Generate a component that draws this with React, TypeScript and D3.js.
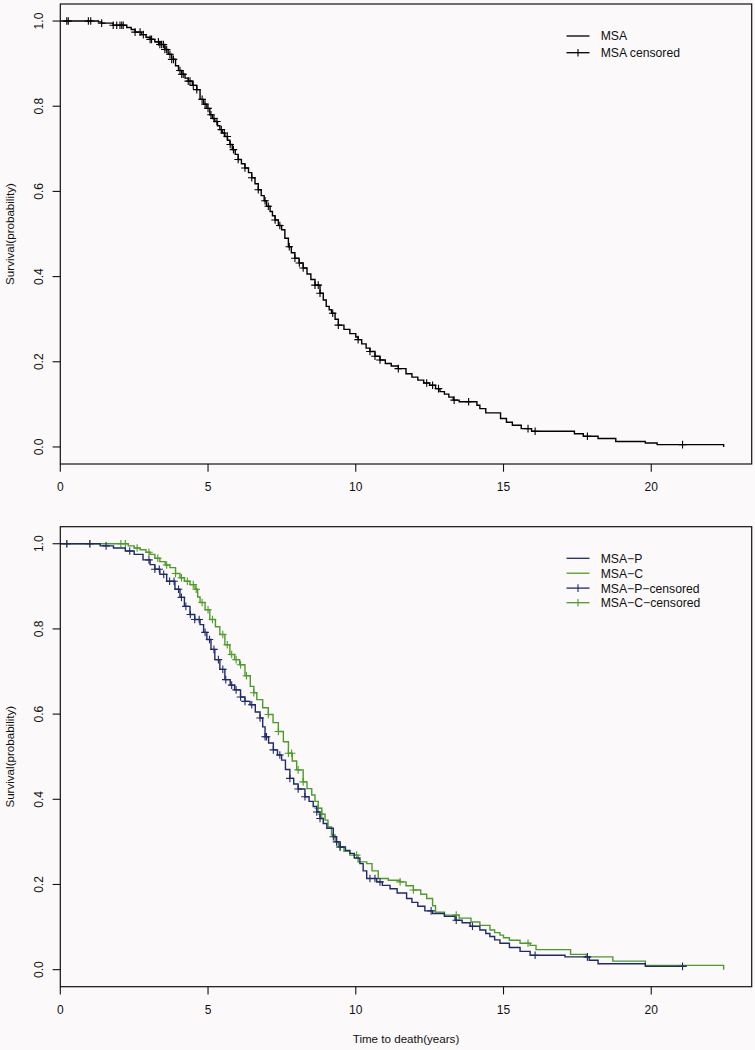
import React from "react";
import * as d3 from "d3";

// ---------------- DATA ----------------
const xTicks = [0, 5, 10, 15, 20];
const yTicks = [0, 0.2, 0.4, 0.6, 0.8, 1.0];
const yTickLabels = ["0.0", "0.2", "0.4", "0.6", "0.8", "1.0"];

// MSA (all) Kaplan-Meier knots
const msaTime = [0, 1.29, 1.4, 1.79, 2.25, 2.4, 2.53, 2.75, 2.9, 3.04, 3.2, 3.37, 3.54, 3.65, 3.77, 3.9, 4.0, 4.11, 4.22, 4.33, 4.47, 4.62, 4.73, 4.85, 4.96, 5.06, 5.15, 5.23, 5.32, 5.4, 5.48, 5.57, 5.66, 5.74, 5.82, 5.92, 6.02, 6.13, 6.25, 6.37, 6.48, 6.59, 6.7, 6.8, 6.9, 6.98, 7.1, 7.18, 7.27, 7.38, 7.49, 7.6, 7.72, 7.82, 7.94, 8.08, 8.22, 8.35, 8.48, 8.62, 8.79, 8.9, 9.0, 9.1, 9.18, 9.3, 9.41, 9.6, 9.8, 10.0, 10.08, 10.2, 10.35, 10.48, 10.65, 10.82, 11.0, 11.2, 11.44, 11.7, 11.9, 12.1, 12.3, 12.5, 12.7, 12.85, 13.0, 13.15, 13.3, 13.5, 14.1, 14.2, 14.4, 14.9, 15.1, 15.3, 15.6, 15.95, 17.4, 17.7, 18.2, 18.8, 19.8, 20.2, 22.45];
const msaSurv = [1.0, 0.998, 0.995, 0.99, 0.985, 0.98, 0.974, 0.968, 0.962, 0.957, 0.951, 0.945, 0.933, 0.922, 0.91, 0.895, 0.884, 0.875, 0.866, 0.859, 0.849, 0.839, 0.816, 0.805, 0.795, 0.78, 0.771, 0.764, 0.754, 0.745, 0.737, 0.729, 0.72, 0.71, 0.698, 0.687, 0.675, 0.665, 0.655, 0.644, 0.632, 0.618, 0.604, 0.59, 0.578, 0.565, 0.553, 0.543, 0.533, 0.52, 0.51, 0.49, 0.47, 0.456, 0.443, 0.432, 0.42, 0.406, 0.393, 0.38, 0.361, 0.345, 0.33, 0.322, 0.314, 0.3, 0.286, 0.276, 0.266, 0.258, 0.252, 0.242, 0.232, 0.224, 0.213, 0.204, 0.196, 0.19, 0.184, 0.172, 0.164, 0.157, 0.15, 0.145, 0.137, 0.13, 0.124, 0.117, 0.11, 0.106, 0.098, 0.09, 0.08, 0.067, 0.058, 0.051, 0.043, 0.037, 0.031, 0.025, 0.02, 0.013, 0.0094, 0.0056, 0];
const msaCensor = [0.22, 0.27, 0.95, 1.03, 1.4, 1.79, 1.91, 2.02, 2.08, 2.13, 2.53, 2.7, 2.81, 3.04, 3.09, 3.32, 3.37, 3.43, 3.49, 3.54, 3.6, 3.71, 3.77, 3.83, 4.05, 4.11, 4.16, 4.33, 4.39, 4.5, 4.62, 4.8, 4.9, 5.0, 5.1, 5.2, 5.3, 5.45, 5.55, 5.65, 5.75, 5.86, 6.02, 6.25, 6.48, 6.7, 6.93, 7.04, 7.27, 7.43, 7.75, 7.94, 8.09, 8.22, 8.62, 8.73, 8.79, 9.22, 9.41, 10.08, 10.48, 10.65, 10.82, 11.44, 12.4, 12.6, 12.8, 13.33, 13.82, 15.83, 16.07, 17.84, 21.06];

// MSA-P knots
const pTime = [0, 1.35, 1.8, 2.2, 2.5, 2.8, 3.04, 3.2, 3.37, 3.6, 3.88, 4.05, 4.2, 4.39, 4.55, 4.73, 4.85, 4.96, 5.1, 5.23, 5.4, 5.57, 5.75, 5.9, 6.1, 6.25, 6.42, 6.6, 6.76, 6.85, 6.93, 7.05, 7.21, 7.35, 7.49, 7.62, 7.77, 7.9, 8.05, 8.28, 8.42, 8.56, 8.68, 8.79, 8.9, 9.02, 9.24, 9.35, 9.47, 9.65, 9.8, 9.95, 10.14, 10.25, 10.37, 10.71, 10.9, 11.16, 11.4, 11.72, 11.9, 12.1, 12.34, 12.6, 13.0, 13.36, 13.6, 13.87, 14.2, 14.4, 14.54, 14.7, 14.88, 15.2, 15.56, 15.9, 17.08, 17.9, 18.2, 19.8, 21.2];
const pSurv = [1.0, 0.995, 0.99, 0.983, 0.975, 0.962, 0.951, 0.94, 0.928, 0.912, 0.893, 0.874, 0.853, 0.834, 0.822, 0.81, 0.792, 0.775, 0.752, 0.728, 0.705, 0.681, 0.668, 0.657, 0.64, 0.63, 0.622, 0.605, 0.591, 0.57, 0.547, 0.532, 0.516, 0.504, 0.492, 0.47, 0.449, 0.436, 0.424, 0.406, 0.395, 0.383, 0.37, 0.355, 0.343, 0.332, 0.312, 0.3, 0.288, 0.28, 0.273, 0.262, 0.249, 0.232, 0.214, 0.206, 0.198, 0.19, 0.18, 0.167, 0.158, 0.149, 0.138, 0.132, 0.125, 0.116, 0.11, 0.102, 0.093, 0.085, 0.078, 0.07, 0.062, 0.052, 0.043, 0.034, 0.03, 0.022, 0.014, 0.0078, 0.0078];
const pCensor = [0.22, 1.0, 1.55, 2.35, 3.0, 3.2, 3.35, 3.5, 3.7, 3.85, 4.0, 4.1, 4.25, 4.4, 4.55, 4.7, 4.9, 5.05, 5.2, 5.35, 5.5, 5.6, 5.8, 5.95, 6.1, 6.25, 6.48, 6.76, 6.93, 6.98, 7.21, 7.43, 7.77, 8.05, 8.28, 8.68, 8.79, 9.24, 9.35, 9.47, 10.48, 10.65, 10.82, 12.55, 13.4, 13.95, 16.07, 17.84, 21.06];

// MSA-C knots
const cTime = [0, 2.3, 2.5, 2.7, 2.9, 3.04, 3.2, 3.37, 3.55, 3.71, 3.9, 4.05, 4.2, 4.39, 4.56, 4.65, 4.73, 4.9, 5.06, 5.25, 5.4, 5.57, 5.74, 5.9, 6.07, 6.25, 6.43, 6.55, 6.65, 6.85, 7.04, 7.2, 7.38, 7.55, 7.72, 7.85, 8.0, 8.22, 8.35, 8.51, 8.62, 8.73, 8.85, 8.96, 9.06, 9.18, 9.3, 9.41, 9.6, 9.8, 10.08, 10.37, 10.55, 10.76, 11.1, 11.5, 11.7, 11.95, 12.2, 12.4, 12.6, 12.7, 13.0, 13.5, 13.9, 14.2, 14.54, 14.7, 14.88, 15.0, 15.2, 15.56, 15.9, 16.1, 17.27, 17.8, 18.7, 19.8, 22.45];
const cSurv = [1.0, 0.995, 0.99, 0.986, 0.98, 0.975, 0.966, 0.958, 0.95, 0.944, 0.93, 0.92, 0.912, 0.904, 0.893, 0.875, 0.862, 0.845, 0.822, 0.805, 0.787, 0.763, 0.74, 0.728, 0.716, 0.69, 0.665, 0.65, 0.634, 0.615, 0.599, 0.58, 0.559, 0.535, 0.508, 0.49, 0.469, 0.441, 0.425, 0.41, 0.395, 0.379, 0.365, 0.351, 0.335, 0.316, 0.3, 0.288, 0.278, 0.269, 0.253, 0.249, 0.232, 0.214, 0.21, 0.206, 0.197, 0.187, 0.177, 0.167, 0.15, 0.135, 0.128, 0.121, 0.112, 0.104, 0.093, 0.087, 0.081, 0.075, 0.069, 0.062, 0.057, 0.047, 0.036, 0.03, 0.02, 0.01, 0];
const cCensor = [0.22, 1.0, 2.05, 2.2, 2.6, 3.0, 3.3, 3.6, 3.9, 4.1, 4.3, 4.5, 4.6, 4.8, 5.0, 5.15, 5.5, 5.65, 5.8, 5.95, 6.1, 6.3, 6.55, 7.04, 7.38, 7.72, 7.83, 8.05, 8.22, 8.73, 8.85, 9.47, 10.03, 11.5, 11.95, 13.4, 15.83, 17.84];

const topLegend = ["MSA", "MSA censored"];
const bottomLegend = ["MSA\u2212P", "MSA\u2212C", "MSA\u2212P\u2212censored", "MSA\u2212C\u2212censored"];
const yTitle = "Survival(probability)";
const xTitle = "Time to death(years)";

// ---------------- LAYOUT ----------------
const W = 755;
const H = 1050;
const LEFT = 60.3;
const RIGHT = 751.7;
const PANEL_H = 460;
const TOP1 = 4;
const TOP2 = 526.7;
const BLUE = "#1f2a6a";
const GREEN = "#4e9c28";
const FONT = "'Liberation Sans', Arial, Helvetica, sans-serif";

type Series = { time: number[]; surv: number[]; censor: number[]; color: string };

const x = d3.scaleLinear().domain([0, 23.4]).range([LEFT, RIGHT]);

function survAt(s: Series, t: number) {
  const i = d3.bisectRight(s.time, t) - 1;
  return s.surv[Math.max(0, i)];
}

function Panel({ top, series, legend }: { top: number; series: Series[]; legend: { label: string; color: string; censor: boolean; dy: number }[] }) {
  const y = d3.scaleLinear().domain([-0.04, 1.04]).range([top + PANEL_H, top]);
  const bottom = top + PANEL_H;
  const line = d3
    .line<[number, number]>()
    .x((d) => x(d[0]))
    .y((d) => y(d[1]))
    .curve(d3.curveStepAfter);
  const m = 3.8;
  return (
    <g>
      {series.map((s, k) => {
        const pts: [number, number][] = s.time.map((t, i) => [t, s.surv[i]]);
        return (
          <g key={k}>
            <path d={line(pts) || ""} fill="none" stroke={s.color} strokeWidth={1.4} />
            {s.censor.map((t, j) => {
              const cx = x(t);
              const cy = y(survAt(s, t));
              return (
                <path
                  key={j}
                  d={`M${cx - m},${cy}H${cx + m}M${cx},${cy - m}V${cy + m}`}
                  stroke={s.color}
                  strokeWidth={1.1}
                  fill="none"
                />
              );
            })}
          </g>
        );
      })}
      <rect x={LEFT} y={top} width={RIGHT - LEFT} height={PANEL_H} fill="none" stroke="#111" strokeWidth={1.2} />
      {/* y axis */}
      {yTicks.map((v, i) => (
        <g key={i}>
          <line x1={LEFT - 7.7} x2={LEFT} y1={y(v)} y2={y(v)} stroke="#111" strokeWidth={1.1} />
          <text
            transform={`translate(42.8,${y(v)}) rotate(-90)`}
            textAnchor="middle"
            fontSize={12}
            fontFamily={FONT}
            fill="#111"
          >
            {yTickLabels[i]}
          </text>
        </g>
      ))}
      {/* x axis */}
      {xTicks.map((v, i) => (
        <g key={i}>
          <line x1={x(v)} x2={x(v)} y1={bottom} y2={bottom + 7.7} stroke="#111" strokeWidth={1.1} />
          <text x={x(v)} y={bottom + 27.2} textAnchor="middle" fontSize={12} fontFamily={FONT} fill="#111">
            {String(v)}
          </text>
        </g>
      ))}
      <text
        transform={`translate(14.3,${top + PANEL_H / 2}) rotate(-90)`}
        textAnchor="middle"
        fontSize={11.6}
        fontFamily={FONT}
        fill="#111"
      >
        {yTitle}
      </text>
      {legend.map((l, i) => {
        const ly = top + l.dy;
        return (
          <g key={i}>
            <line x1={566.5} x2={589.5} y1={ly} y2={ly} stroke={l.color} strokeWidth={1.3} />
            {l.censor && <line x1={578} x2={578} y1={ly - m} y2={ly + m} stroke={l.color} strokeWidth={1.1} />}
            <text x={600.7} y={ly + 4.4} fontSize={12.2} fontFamily={FONT} fill="#111">
              {l.label}
            </text>
          </g>
        );
      })}
    </g>
  );
}

export default function App() {
  const msa: Series = { time: msaTime, surv: msaSurv, censor: msaCensor, color: "#000" };
  const p: Series = { time: pTime, surv: pSurv, censor: pCensor, color: BLUE };
  const c: Series = { time: cTime, surv: cSurv, censor: cCensor, color: GREEN };
  return (
    <div style={{ position: "absolute", left: 0, top: 0, width: W, height: H }}>
      <svg width={W} height={H} style={{ display: "block", background: "#fbf9fa" }}>
        <Panel
          top={TOP1}
          series={[msa]}
          legend={[
            { label: topLegend[0], color: "#000", censor: false, dy: 32 },
            { label: topLegend[1], color: "#000", censor: true, dy: 48.7 },
          ]}
        />
        <Panel
          top={TOP2}
          series={[c, p]}
          legend={[
            { label: bottomLegend[0], color: BLUE, censor: false, dy: 31.6 },
            { label: bottomLegend[1], color: GREEN, censor: false, dy: 46.5 },
            { label: bottomLegend[2], color: BLUE, censor: true, dy: 61.4 },
            { label: bottomLegend[3], color: GREEN, censor: true, dy: 76 },
          ]}
        />
        <text x={(LEFT + RIGHT) / 2} y={1043} textAnchor="middle" fontSize={11.6} fontFamily={FONT} fill="#111">
          {xTitle}
        </text>
      </svg>
    </div>
  );
}
